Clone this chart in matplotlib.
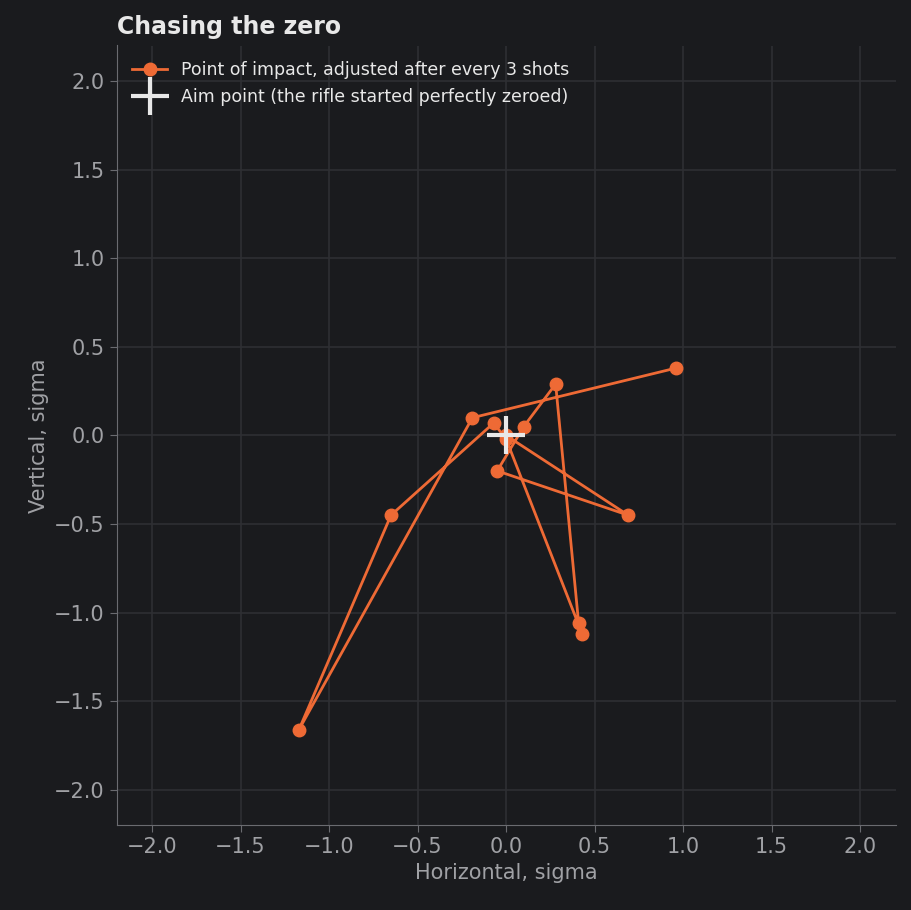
import matplotlib
matplotlib.use("Agg")
import matplotlib.pyplot as plt

x = [0.0, 0.69, -0.05, 0.10, 0.28, 0.41, 0.43, 0.0, -0.07, -0.65, -1.17, -0.19, 0.96]
y = [0.0, -0.45, -0.20, 0.05, 0.29, -1.06, -1.12, -0.02, 0.07, -0.45, -1.66, 0.10, 0.38]
ticks = [-2.0, -1.5, -1.0, -0.5, 0.0, 0.5, 1.0, 1.5, 2.0]

bg = "#1a1b1e"
orange = "#ee6a35"
fig = plt.figure(figsize=(9.11, 9.10), dpi=100, facecolor=bg)
ax = fig.add_axes([0.128, 0.093, 0.855, 0.857], facecolor=bg)
ax.plot(x, y, color=orange, lw=2, marker="o", ms=9, label="Point of impact, adjusted after every 3 shots", zorder=3)
ax.plot([0], [0], marker="+", ms=28, mew=3, color="#e8e8e8", ls="none",
        label="Aim point (the rifle started perfectly zeroed)", zorder=4)
ax.set_xlim(-2.2, 2.2)
ax.set_ylim(-2.2, 2.2)
ax.set_xticks(ticks)
ax.set_yticks(ticks)
ax.set_xticklabels([f"{t:.1f}".replace("-", "\u2212") for t in ticks])
ax.set_yticklabels([f"{t:.1f}".replace("-", "\u2212") for t in ticks])
ax.grid(True, color="#2e2f33", lw=1.2)
ax.set_axisbelow(True)
for s in ["top", "right"]:
    ax.spines[s].set_visible(False)
for s in ["left", "bottom"]:
    ax.spines[s].set_color("#6a6b70")
ax.tick_params(colors="#6a6b70", labelcolor="#a0a1a5", labelsize=15, length=5)
ax.set_xlabel("Horizontal, sigma", color="#a0a1a5", fontsize=15)
ax.set_ylabel("Vertical, sigma", color="#a0a1a5", fontsize=15)
ax.set_title("Chasing the zero", loc="left", color="#e8e8e8", fontsize=17, fontweight="bold", pad=8)
leg = ax.legend(loc="upper left", frameon=False, fontsize=12.5, labelcolor="#e8e8e8")
fig.savefig("out.png", dpi=100, facecolor=bg)
